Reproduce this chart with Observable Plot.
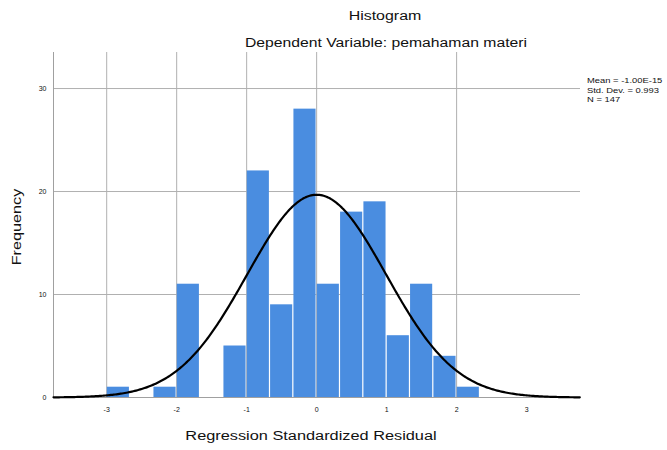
<!DOCTYPE html>
<html><head><meta charset="utf-8">
<script src="https://cdn.jsdelivr.net/npm/d3@7"></script>
<script src="https://cdn.jsdelivr.net/npm/@observablehq/plot@0.6"></script>
<style>
body{margin:0;background:#fff;font-family:"Liberation Sans",Arial,sans-serif;}
#wrap{position:relative;width:667px;height:450px;overflow:hidden}
.t{position:absolute;white-space:nowrap;color:#111;line-height:1}
</style></head><body><div id="wrap"></div>
<script>
// Histogram bins (lower edges, standardized residual) and counts
const binStart = [-3, -2.3333, -2, -1.3333, -1, -0.6667, -0.3333, 0, 0.3333, 0.6667, 1, 1.3333, 1.6667, 2];
const counts   = [1, 1, 11, 5, 22, 9, 28, 11, 18, 19, 6, 11, 4, 1];
const binWidth = 1/3;
const xTicks = [-3, -2, -1, 0, 1, 2, 3];
const xTickLabels = ["-3", "-2", "-1", "0", "1", "2", "3"];
const yTicks = [0, 10, 20, 30];
const xGrid = [-3, -2, -1, 0, 2];
const yGrid = [10, 20, 30];
const xDomain = [-3.76, 3.77];
const yDomain = [0, 33.5];
// Normal curve parameters (from the legend)
const statMean = 0, statSD = 0.993, statN = 147;
const legendLines = ["Mean = -1.00E-15", "Std. Dev. = 0.993", "N = 147"];
const titleText = "Histogram";
const subtitleText = "Dependent Variable: pemahaman materi";
const xLabel = "Regression Standardized Residual";
const yLabel = "Frequency";

const bins = binStart.map((s, i) => ({x1: s, x2: s + binWidth, y: counts[i]}));
const curve = d3.range(xDomain[0], xDomain[1] + 1e-9, 0.02).map(x => ({
  x, y: statN * binWidth * Math.exp(-0.5 * ((x - statMean) / statSD) ** 2) / (statSD * Math.sqrt(2 * Math.PI))
}));

const chart = Plot.plot({
  width: 667, height: 450,
  marginLeft: 53, marginRight: 87, marginTop: 52, marginBottom: 53,
  style: {fontFamily: '"Liberation Sans", Arial, sans-serif', fontSize: "7px", color: "#111", background: "#fff"},
  x: {domain: xDomain, ticks: xTicks, tickFormat: (d) => xTickLabels[xTicks.indexOf(d)], label: null, tickSize: 0, tickPadding: 10},
  y: {domain: yDomain, ticks: yTicks, label: null, tickSize: 0, tickPadding: 7},
  marks: [
    Plot.ruleX(xGrid, {stroke: "#b0b0b0", strokeWidth: 1}),
    Plot.ruleY(yGrid, {stroke: "#b0b0b0", strokeWidth: 1}),
    Plot.rectY(bins, {x1: "x1", x2: "x2", y: "y", fill: "#4a8de0", insetLeft: 0.6, insetRight: 0.6}),
    Plot.ruleY([0], {stroke: "#a0a0a0", strokeWidth: 1}),
    Plot.ruleX([xDomain[0]], {stroke: "#a0a0a0", strokeWidth: 1}),
    Plot.line(curve, {x: "x", y: "y", stroke: "#000", strokeWidth: 2.2})
  ]
});
const wrap = document.getElementById("wrap");
wrap.appendChild(chart);
chart.style.position = "absolute"; chart.style.left = "0"; chart.style.top = "0";

function addText(txt, css) {
  const d = document.createElement("div");
  d.className = "t"; d.textContent = txt;
  Object.assign(d.style, css);
  wrap.appendChild(d);
  return d;
}
addText(titleText, {left: "385px", top: "10px", fontSize: "12px", transform: "translateX(-50%) scaleX(1.33)"});
addText(subtitleText, {left: "386px", top: "37px", fontSize: "12px", transform: "translateX(-50%) scaleX(1.31)"});
addText(xLabel, {left: "311px", top: "430px", fontSize: "12px", transform: "translateX(-50%) scaleX(1.36)"});
addText(yLabel, {left: "17px", top: "227px", fontSize: "12px", transform: "translate(-50%,-50%) rotate(-90deg) scaleX(1.35)"});
legendLines.forEach((l, i) => addText(l, {left: "587px", top: (77 + i * 9.5) + "px", fontSize: "7.5px", transformOrigin: "0 0", transform: "scaleX(1.25)"}));
</script></body></html>
